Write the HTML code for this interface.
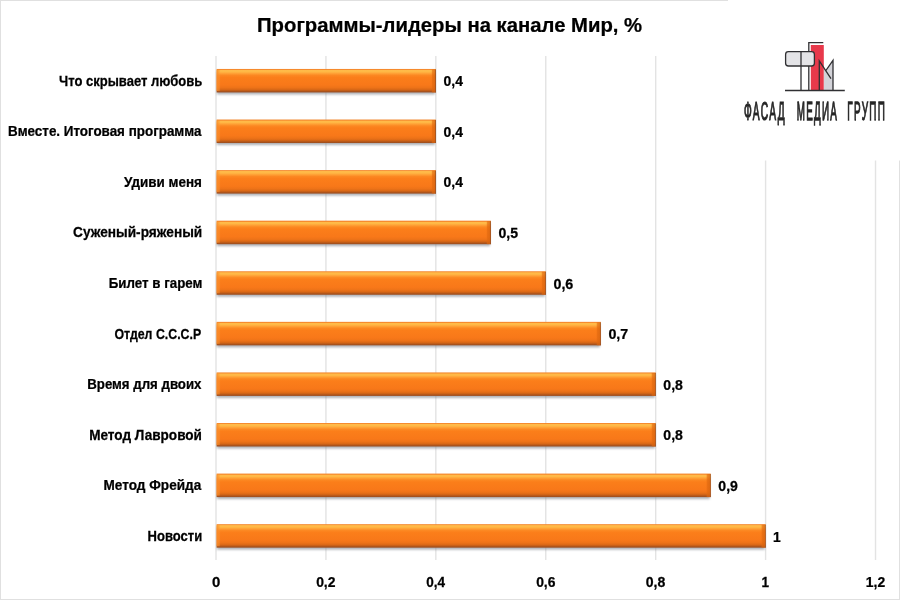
<!DOCTYPE html>
<html lang="ru"><head><meta charset="utf-8"><title>Программы-лидеры на канале Мир</title>
<style>
html,body{margin:0;padding:0;background:#fff;}
body{width:900px;height:600px;overflow:hidden;position:relative;font-family:"Liberation Sans",sans-serif;}
svg{position:absolute;left:0;top:0;display:block}
text{font-family:"Liberation Sans",sans-serif;font-weight:bold;fill:#000;stroke:#000;stroke-width:0.25px}
</style></head><body>
<svg width="900" height="600" viewBox="0 0 900 600">
<defs>
<linearGradient id="bar" x1="0" y1="0" x2="0" y2="1">
<stop offset="0" stop-color="#f4872b"/>
<stop offset="0.035" stop-color="#f78c2e"/>
<stop offset="0.06" stop-color="#ffbb4a"/>
<stop offset="0.125" stop-color="#ffb845"/>
<stop offset="0.19" stop-color="#ffa136"/>
<stop offset="0.27" stop-color="#fc8822"/>
<stop offset="0.36" stop-color="#fb7e1a"/>
<stop offset="0.68" stop-color="#f87819"/>
<stop offset="0.79" stop-color="#ee7318"/>
<stop offset="0.87" stop-color="#dc6916"/>
<stop offset="0.925" stop-color="#c05c18"/>
<stop offset="0.96" stop-color="#a8521c"/>
<stop offset="1" stop-color="#9c4e20"/>
</linearGradient>
<linearGradient id="lb" x1="0" y1="0" x2="1" y2="0">
<stop offset="0" stop-color="#f88a28" stop-opacity="0.9"/>
<stop offset="1" stop-color="#fa9a3a" stop-opacity="0.25"/>
</linearGradient>
<linearGradient id="rb" x1="0" y1="0" x2="1" y2="0">
<stop offset="0" stop-color="#e36a10" stop-opacity="0.15"/>
<stop offset="0.2" stop-color="#e0680f" stop-opacity="0.6"/>
<stop offset="0.74" stop-color="#d8640f" stop-opacity="0.75"/>
<stop offset="0.8" stop-color="#a85620" stop-opacity="0.9"/>
<stop offset="1" stop-color="#9a4e20" stop-opacity="1"/>
</linearGradient>
<filter id="sh" x="-5%" y="-20%" width="110%" height="160%"><feGaussianBlur stdDeviation="0.9"/></filter>
</defs>
<rect x="0" y="0" width="900" height="600" fill="#fff"/>

<rect x="215.30" y="56" width="1.4" height="504" fill="#e3e3e3"/>
<rect x="325.22" y="56" width="1.4" height="504" fill="#e3e3e3"/>
<rect x="435.14" y="56" width="1.4" height="504" fill="#e3e3e3"/>
<rect x="545.06" y="56" width="1.4" height="504" fill="#e3e3e3"/>
<rect x="654.98" y="56" width="1.4" height="504" fill="#e3e3e3"/>
<rect x="764.90" y="56" width="1.4" height="504" fill="#e3e3e3"/>
<rect x="874.82" y="56" width="1.4" height="504" fill="#e3e3e3"/>
<rect x="216.90" y="70.95" width="218.04" height="23.5" fill="#7e848e" opacity="0.62" filter="url(#sh)"/>
<rect x="216.60" y="68.95" width="219.34" height="23.5" fill="url(#bar)"/>
<rect x="216.60" y="69.95" width="3.5" height="21.0" fill="url(#lb)"/>
<rect x="431.44" y="69.45" width="4.5" height="23.0" fill="url(#rb)"/>
<text transform="translate(202.18 85.50) scale(0.9242 1)" font-size="14.1" text-anchor="end">Что скрывает любовь</text>
<text transform="translate(443.55 86.00) scale(0.9934 1)" font-size="14.0">0,4</text>
<rect x="216.90" y="121.53" width="218.04" height="23.5" fill="#7e848e" opacity="0.62" filter="url(#sh)"/>
<rect x="216.60" y="119.53" width="219.34" height="23.5" fill="url(#bar)"/>
<rect x="216.60" y="120.53" width="3.5" height="21.0" fill="url(#lb)"/>
<rect x="431.44" y="120.03" width="4.5" height="23.0" fill="url(#rb)"/>
<text transform="translate(201.49 136.10) scale(0.9517 1)" font-size="14.1" text-anchor="end">Вместе. Итоговая программа</text>
<text transform="translate(443.55 136.63) scale(0.9934 1)" font-size="14.0">0,4</text>
<rect x="216.90" y="172.11" width="218.04" height="23.5" fill="#7e848e" opacity="0.62" filter="url(#sh)"/>
<rect x="216.60" y="170.11" width="219.34" height="23.5" fill="url(#bar)"/>
<rect x="216.60" y="171.11" width="3.5" height="21.0" fill="url(#lb)"/>
<rect x="431.44" y="170.61" width="4.5" height="23.0" fill="url(#rb)"/>
<text transform="translate(201.96 186.70) scale(0.9554 1)" font-size="14.1" text-anchor="end">Удиви меня</text>
<text transform="translate(443.55 187.26) scale(0.9934 1)" font-size="14.0">0,4</text>
<rect x="216.90" y="222.69" width="273.00" height="23.5" fill="#7e848e" opacity="0.62" filter="url(#sh)"/>
<rect x="216.60" y="220.69" width="274.30" height="23.5" fill="url(#bar)"/>
<rect x="216.60" y="221.69" width="3.5" height="21.0" fill="url(#lb)"/>
<rect x="486.40" y="221.19" width="4.5" height="23.0" fill="url(#rb)"/>
<text transform="translate(202.22 237.30) scale(0.9696 1)" font-size="14.1" text-anchor="end">Суженый-ряженый</text>
<text transform="translate(498.52 237.89) scale(1.0065 1)" font-size="14.0">0,5</text>
<rect x="216.90" y="273.27" width="327.96" height="23.5" fill="#7e848e" opacity="0.62" filter="url(#sh)"/>
<rect x="216.60" y="271.27" width="329.26" height="23.5" fill="url(#bar)"/>
<rect x="216.60" y="272.27" width="3.5" height="21.0" fill="url(#lb)"/>
<rect x="541.36" y="271.77" width="4.5" height="23.0" fill="url(#rb)"/>
<text transform="translate(202.44 287.90) scale(0.9457 1)" font-size="14.1" text-anchor="end">Билет в гарем</text>
<text transform="translate(553.46 288.52) scale(1.0204 1)" font-size="14.0">0,6</text>
<rect x="216.90" y="323.85" width="382.92" height="23.5" fill="#7e848e" opacity="0.62" filter="url(#sh)"/>
<rect x="216.60" y="321.85" width="384.22" height="23.5" fill="url(#bar)"/>
<rect x="216.60" y="322.85" width="3.5" height="21.0" fill="url(#lb)"/>
<rect x="596.32" y="322.35" width="4.5" height="23.0" fill="url(#rb)"/>
<text transform="translate(201.19 338.50) scale(0.8766 1)" font-size="14.1" text-anchor="end">Отдел С.С.С.Р</text>
<text transform="translate(608.40 339.15) scale(1.0196 1)" font-size="14.0">0,7</text>
<rect x="216.90" y="374.43" width="437.88" height="23.5" fill="#7e848e" opacity="0.62" filter="url(#sh)"/>
<rect x="216.60" y="372.43" width="439.18" height="23.5" fill="url(#bar)"/>
<rect x="216.60" y="373.43" width="3.5" height="21.0" fill="url(#lb)"/>
<rect x="651.28" y="372.93" width="4.5" height="23.0" fill="url(#rb)"/>
<text transform="translate(201.48 389.10) scale(0.9401 1)" font-size="14.1" text-anchor="end">Время для двоих</text>
<text transform="translate(663.37 389.78) scale(1.0056 1)" font-size="14.0">0,8</text>
<rect x="216.90" y="425.01" width="437.88" height="23.5" fill="#7e848e" opacity="0.62" filter="url(#sh)"/>
<rect x="216.60" y="423.01" width="439.18" height="23.5" fill="url(#bar)"/>
<rect x="216.60" y="424.01" width="3.5" height="21.0" fill="url(#lb)"/>
<rect x="651.28" y="423.51" width="4.5" height="23.0" fill="url(#rb)"/>
<text transform="translate(201.97 439.70) scale(0.9641 1)" font-size="14.1" text-anchor="end">Метод Лавровой</text>
<text transform="translate(663.37 440.41) scale(1.0056 1)" font-size="14.0">0,8</text>
<rect x="216.90" y="475.59" width="492.84" height="23.5" fill="#7e848e" opacity="0.62" filter="url(#sh)"/>
<rect x="216.60" y="473.59" width="494.14" height="23.5" fill="url(#bar)"/>
<rect x="216.60" y="474.59" width="3.5" height="21.0" fill="url(#lb)"/>
<rect x="706.24" y="474.09" width="4.5" height="23.0" fill="url(#rb)"/>
<text transform="translate(201.24 490.30) scale(0.9648 1)" font-size="14.1" text-anchor="end">Метод Фрейда</text>
<text transform="translate(718.31 491.04) scale(1.0062 1)" font-size="14.0">0,9</text>
<rect x="216.90" y="526.17" width="547.80" height="23.5" fill="#7e848e" opacity="0.62" filter="url(#sh)"/>
<rect x="216.60" y="524.17" width="549.10" height="23.5" fill="url(#bar)"/>
<rect x="216.60" y="525.17" width="3.5" height="21.0" fill="url(#lb)"/>
<rect x="761.20" y="524.67" width="4.5" height="23.0" fill="url(#rb)"/>
<text transform="translate(202.19 540.90) scale(0.9237 1)" font-size="14.1" text-anchor="end">Новости</text>
<text transform="translate(773.07 541.67) scale(0.9879 1)" font-size="14.0">1</text>
<text transform="translate(216.11 586.90) scale(1.0477 1)" font-size="14.3" text-anchor="middle">0</text>
<text transform="translate(325.81 586.90) scale(0.9740 1)" font-size="14.3" text-anchor="middle">0,2</text>
<text transform="translate(435.71 586.90) scale(0.9487 1)" font-size="14.3" text-anchor="middle">0,4</text>
<text transform="translate(545.79 586.90) scale(0.9719 1)" font-size="14.3" text-anchor="middle">0,6</text>
<text transform="translate(655.55 586.90) scale(0.9853 1)" font-size="14.3" text-anchor="middle">0,8</text>
<text transform="translate(765.31 586.90) scale(0.9461 1)" font-size="14.3" text-anchor="middle">1</text>
<text transform="translate(875.51 586.90) scale(0.9740 1)" font-size="14.3" text-anchor="middle">1,2</text>
<text transform="translate(449.57 32.20) scale(0.9998 1)" font-size="20.3" text-anchor="middle">Программы-лидеры на канале Мир, %</text>
<rect x="0.5" y="0.5" width="899" height="599" fill="none" stroke="#e0e0e0" stroke-width="1"/>
<rect x="728" y="0" width="172" height="160.5" fill="#fff"/>
<g id="logo" fill="none" stroke="#303033" stroke-width="1.3" stroke-linecap="butt">
<rect x="810.8" y="45" width="13" height="45.5" fill="#e8394b" stroke="none"/>
<polygon points="823.9,67.6 825.8,70.4 833,60.4 833,90.5 823.9,90.5" fill="#d3d3d9" stroke="none"/>
<path d="M808.8 90.5 V42.6 H823.3"/>
<rect x="785.6" y="51.6" width="28.8" height="14.4" rx="2.8" ry="2.8" fill="#e4e4e7"/>
<path d="M801 51.6 V90.5"/>
<path d="M819.3 90.5 V60.8 L831 78.6" stroke-linejoin="miter"/>
<path d="M825.9 70.5 L833 60.3 V90.5"/>
<path d="M785 90.5 H844.8" stroke-width="1.3"/>
</g>

<text transform="translate(743.93 119.6) scale(0.3952 1)" font-size="25.8" style="font-weight:normal;stroke:#262626;stroke-width:0.95px;vector-effect:non-scaling-stroke;fill:#262626;letter-spacing:3.4px">ФАСАД</text>
<text transform="translate(796.72 119.6) scale(0.3810 1)" font-size="25.8" style="font-weight:normal;stroke:#262626;stroke-width:0.95px;vector-effect:non-scaling-stroke;fill:#262626;letter-spacing:3.4px">МЕДИА</text>
<text transform="translate(847.32 119.6) scale(0.3849 1)" font-size="25.8" style="font-weight:normal;stroke:#262626;stroke-width:0.95px;vector-effect:non-scaling-stroke;fill:#262626;letter-spacing:3.4px">ГРУПП</text>
</svg></body></html>
